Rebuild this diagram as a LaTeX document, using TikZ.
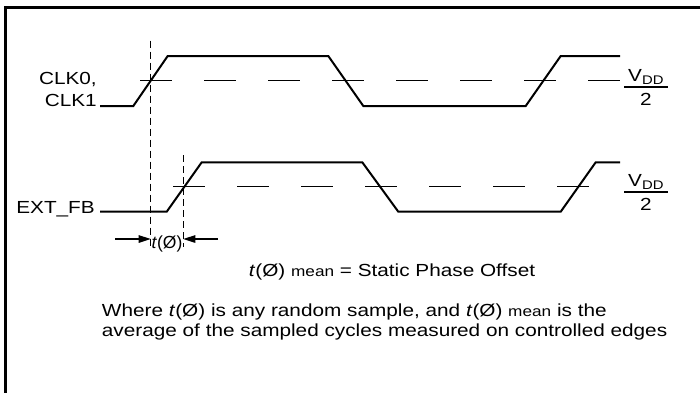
\documentclass[tikz,border=0pt]{standalone}
\usepackage{fontspec}
\setmainfont{Liberation Sans}
\usetikzlibrary{arrows.meta}
\begin{document}
\begin{tikzpicture}[x=1pt,y=-1pt,
  wave/.style={line width=2pt, line join=miter},
  thr/.style={line width=1pt, dash pattern=on 32pt off 32pt},
  vref/.style={line width=1.1pt, dash pattern=on 7pt off 4pt},
  lbl/.style={font=\fontsize{17.5}{21}\selectfont, inner sep=0pt, xscale=1.186, transform shape},
  small/.style={font=\fontsize{17.5}{21}\selectfont, inner sep=0pt},
  meas/.style={line width=1.2pt, -{Triangle[length=12pt,width=7.5pt]}},
  bar/.style={line width=2pt}]
\useasboundingbox (0,0) rectangle (700,392);
\clip (0,0) rectangle (700,392);
\fill[white] (0,0) rectangle (700,392);
\draw[line width=3pt] (5.5,7.5) rectangle (760,440);

% waveforms
\draw[wave] (100,106) -- (133.3,106) -- (167.7,56) -- (328.3,56) -- (363.3,106) -- (525.7,106) -- (560.7,56) -- (620,56);
\draw[wave] (100,211.7) -- (166.7,211.7) -- (201.7,162.3) -- (362.3,162.3) -- (398.3,211.7) -- (560.7,211.7) -- (595.7,162.3) -- (620,162.3);

% thresholds
\coordinate (thrAs) at (140,80.3);
\coordinate (thrAe) at (620,80.3);
\coordinate (thrBs) at (173.3,186.7);
\coordinate (thrBe) at (589.3,186.7);
\draw[thr] (thrAs) -- (thrAe);
\draw[thr] (thrBs) -- (thrBe);

% vertical references
\coordinate (vAt) at (150.7,40.7);
\coordinate (vAb) at (150.7,247);
\coordinate (vBt) at (183.3,155);
\coordinate (vBb) at (183.3,247);
\draw[vref] (vAt) -- (vAb);
\draw[vref] (vBt) -- (vBb);

% measurement arrows
\coordinate (aL) at (115,239);
\coordinate (aLt) at (150.7,239);
\coordinate (aR) at (218,239);
\coordinate (aRt) at (183.3,239);
\draw[meas] (aL) -- (aLt);
\draw[meas] (aR) -- (aRt);
\node[small, anchor=base] (tphi) at (167,248) {\textit{t}(Ø)};

% left labels
\node[lbl, anchor=base east] (clk0) at (97,84.5) {CLK0,};
\node[lbl, anchor=base east] (clk1) at (97,106.5) {CLK1};
\node[lbl, anchor=base east] (extfb) at (95,213) {EXT\_FB};

% VDD/2 labels
\node[lbl, anchor=base west] (vddA) at (628,81) {V\raisebox{-3pt}{\fontsize{12.5}{13}\selectfont DD}};
\coordinate (barAs) at (624.3,87.3);
\coordinate (barAe) at (668.3,87.3);
\draw[bar] (barAs) -- (barAe);
\node[lbl, anchor=base] (twoA) at (646,105) {2};

\node[lbl, anchor=base west] (vddB) at (628,186) {V\raisebox{-3pt}{\fontsize{12.5}{13}\selectfont DD}};
\coordinate (barBs) at (624.3,192.3);
\coordinate (barBe) at (668.3,192.3);
\draw[bar] (barBs) -- (barBe);
\node[lbl, anchor=base] (twoB) at (646,210) {2};

% text
\node[lbl, anchor=base] (title) at (392,276) {\textit{t}(Ø) {\fontsize{14.5}{17}\selectfont mean} = Static Phase Offset};
\node[lbl, anchor=base west] (lineA) at (101.7,316) {Where \textit{t}(Ø) is any random sample, and \textit{t}(Ø) {\fontsize{14.5}{17}\selectfont mean} is the};
\node[lbl, anchor=base west] (lineB) at (101.7,336) {average of the sampled cycles measured on controlled edges};
\end{tikzpicture}
\end{document}
